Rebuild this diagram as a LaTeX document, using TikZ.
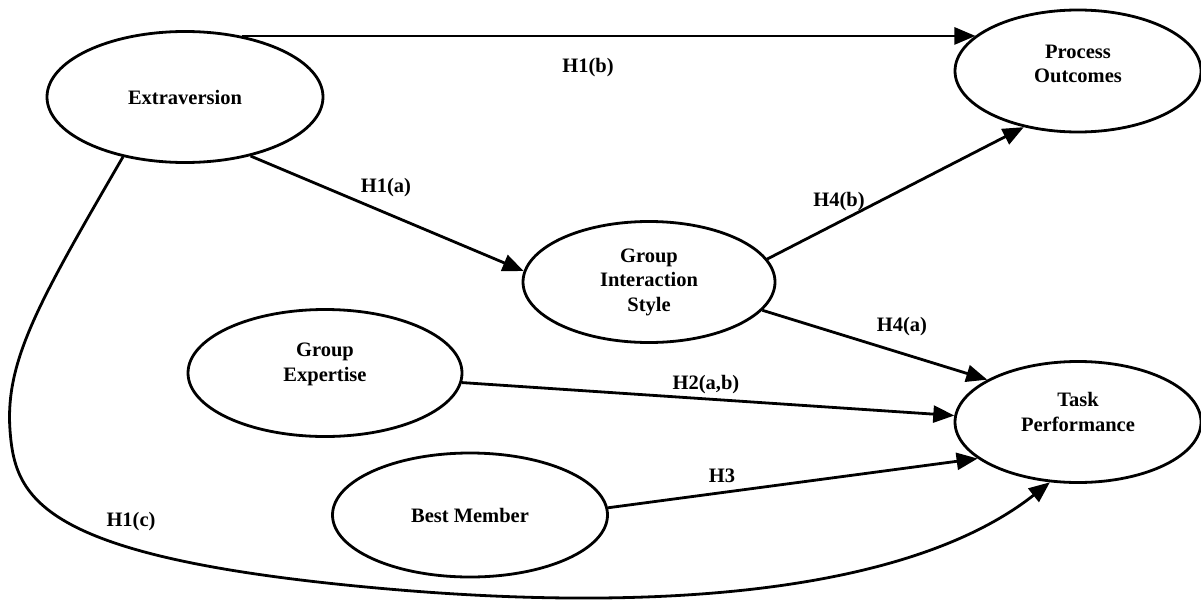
\documentclass[tikz,border=0pt]{standalone}
\usepackage{fontspec}
\setmainfont{Liberation Serif}
\usetikzlibrary{shapes.geometric, arrows.meta}

\tikzset{
    var/.style={ellipse, draw=black, line width=2.8pt, align=center,
        font=\bfseries\fontsize{20.5}{24.5}\selectfont, inner sep=0pt},
    hyp/.style={font=\bfseries\fontsize{20.5}{24.5}\selectfont, inner sep=0pt},
    arr/.style={line width=2.8pt, -{Triangle[length=21pt, width=17pt]}}
}

\begin{document}
\begin{tikzpicture}[x=1pt, y=-1pt]
        \useasboundingbox (0,0) rectangle (1201,602);

        % Define the constructs
        \node[var, minimum width=276pt, minimum height=131pt] (ext) at (185, 97) {Extraversion};
        \node[var, minimum width=246pt, minimum height=122pt, text depth=14pt] (po)  at (1078, 71) {Process\\Outcomes};
        \node[var, minimum width=252pt, minimum height=121pt] (gis) at (649, 282) {Group\\Interaction\\Style};
        \node[var, minimum width=274pt, minimum height=127pt, text depth=22pt] (ge)  at (325, 373) {Group\\Expertise};
        \node[var, minimum width=275pt, minimum height=124pt] (bm)  at (470, 515) {Best Member};
        \node[var, minimum width=246pt, minimum height=121pt, text depth=20pt] (tp)  at (1078, 422) {Task\\Performance};

        % Draw the hypothesised paths
        \draw[arr] (ext.47) -- (ext.47 -| po.161);
        \draw[arr] (ext.-42) -- (gis.175);
        \draw[arr] (gis.11) -- (po.226);
        \draw[arr] (gis.-14) -- (tp.155);
        \draw[arr] (ge.-4) -- (tp.177);
        \draw[arr] (bm.3) -- (tp.200);

        % Long path from extraversion round the bottom
        \draw[arr] (ext.224) .. controls (40, 300) and (5, 360) .. (10, 430)
            .. controls (15, 500) and (40, 560) .. (400, 590)
            .. controls (690, 614) and (920, 585) .. (tp.245);

        % Label the paths
        \node[hyp] (h1b) at (588, 68) {H1(b)};
        \node[hyp] (h1a) at (386, 188) {H1(a)};
        \node[hyp] (h4b) at (839, 202) {H4(b)};
        \node[hyp] (h4a) at (902, 327) {H4(a)};
        \node[hyp] (h2ab) at (706, 385) {H2(a,b)};
        \node[hyp] (h3) at (722, 476) {H3};
        \node[hyp] (h1c) at (131, 522) {H1(c)};
    \end{tikzpicture}
\end{document}
